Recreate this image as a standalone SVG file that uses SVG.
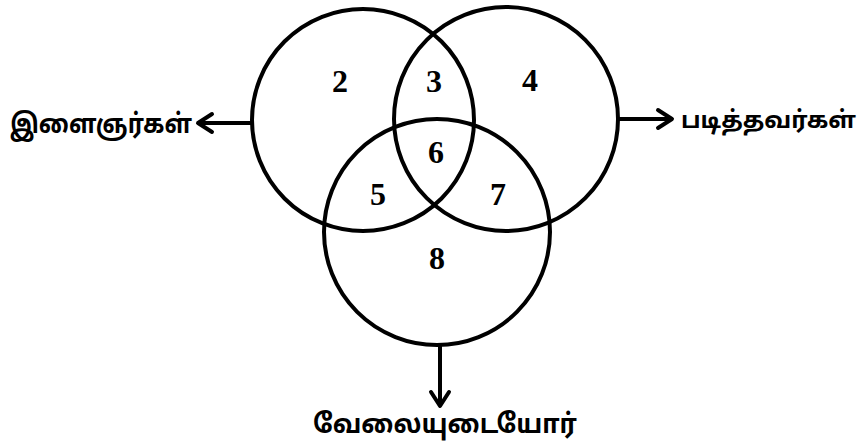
<svg xmlns="http://www.w3.org/2000/svg" width="867" height="448" viewBox="0 0 867 448">
<defs>
<marker id="arr" viewBox="0 0 24 24" refX="20" refY="12" markerWidth="24" markerHeight="24" markerUnits="userSpaceOnUse" orient="auto">
<polyline points="6,3 20,12 6,21" fill="none" stroke="#000" stroke-width="4" stroke-linecap="round" stroke-linejoin="round"/>
</marker>
<style>
.c{fill:none;stroke:#000;stroke-width:4}
.n{font-family:"Liberation Serif",serif;font-weight:bold;font-size:32px;text-anchor:middle;fill:#000}
.t{font-family:"Noto Sans Tamil","Noto Sans","Lohit Tamil",sans-serif;font-weight:bold;font-size:27px;fill:#000}
.l{stroke:#000;stroke-width:4;fill:none}
</style>
</defs>
<rect width="867" height="448" fill="#fff"/>
<g id="circle-left"><circle class="c" cx="363" cy="120" r="111"/></g>
<g id="circle-right"><circle class="c" cx="506" cy="119" r="112"/></g>
<g id="circle-bottom"><circle class="c" cx="437" cy="232" r="113"/></g>
<g id="regions">
<text class="n" x="340" y="92">2</text>
<text class="n" x="434" y="92">3</text>
<text class="n" x="530" y="91">4</text>
<text class="n" x="436" y="163">6</text>
<text class="n" x="378" y="205">5</text>
<text class="n" x="498" y="205">7</text>
<text class="n" x="437" y="269">8</text>
</g>
<g id="connectors">
<line class="l" x1="252" y1="123" x2="198" y2="123" marker-end="url(#arr)"/>
<line class="l" x1="618" y1="119" x2="672" y2="119" marker-end="url(#arr)"/>
<line class="l" x1="440" y1="345" x2="440" y2="406" marker-end="url(#arr)"/>
</g>
<g id="label-left"><text class="t" x="10" y="133" textLength="182" lengthAdjust="spacingAndGlyphs">இளைஞர்கள்</text></g>
<g id="label-right"><text class="t" x="681" y="128" style="font-size:24px" textLength="175" lengthAdjust="spacingAndGlyphs">படித்தவர்கள்</text></g>
<g id="label-bottom"><text class="t" x="313" y="433" textLength="264" lengthAdjust="spacingAndGlyphs">வேலையுடையோர்</text></g>
</svg>
